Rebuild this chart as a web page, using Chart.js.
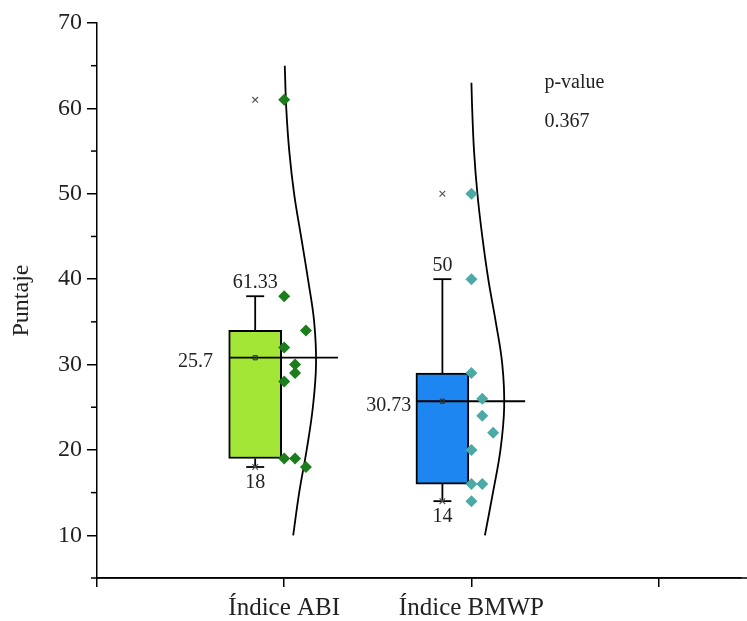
<!DOCTYPE html>
<html>
<head>
<meta charset="utf-8">
<script src="https://cdn.jsdelivr.net/npm/chart.js@4.4.0/dist/chart.umd.min.js"></script>
<style>
  html, body { margin: 0; padding: 0; background: #fff; }
  #wrap { width: 747px; height: 621px; }
</style>
</head>
<body>
<div id="wrap"><canvas id="boxChart" width="747" height="621"></canvas></div>
<script>
// Puntajes por índice
const categories = ['Índice ABI', 'Índice BMWP'];
const abiScores = [61, 38, 34, 32, 30, 29, 28, 19, 19, 18];
const bmwpScores = [50, 40, 29, 26, 24, 22, 20, 16, 16, 14];
// columna del punto junto a la caja (0, 1, 2)
const abiJitter = [0, 0, 2, 0, 1, 1, 0, 0, 1, 2];
const bmwpJitter = [0, 0, 0, 1, 1, 2, 0, 0, 1, 0];

// Caja y bigotes
const boxLow = [19, 16];
const boxHigh = [34, 29];
const whiskerLow = [18, 14];
const whiskerHigh = [38, 40];
const topLabels = ['61.33', '50'];
const meanLabels = ['25.7', '30.73'];
const pLabel = 'p-value';
const pValue = '0.367';

const yTicks = [10, 20, 30, 40, 50, 60, 70];
const yMinorTicks = [15, 25, 35, 45, 55, 65];

// Curva normal (nivel, ancho)
const abiCurveY = [10, 15, 20, 25, 30, 35, 40, 45, 50, 55, 60, 65];
const abiCurveW = [0.048, 0.08, 0.12, 0.153, 0.17, 0.16, 0.127, 0.09, 0.053, 0.027, 0.011, 0.003];
const bmwpCurveY = [10, 15, 20, 25, 30, 35, 40, 45, 50, 55, 60, 63];
const bmwpCurveW = [0.072, 0.115, 0.155, 0.175, 0.165, 0.13, 0.09, 0.058, 0.032, 0.014, 0.004, 0];

const scoreSets = [abiScores, bmwpScores];
const jitterSets = [abiJitter, bmwpJitter];
const curveSets = [[abiCurveY, abiCurveW], [bmwpCurveY, bmwpCurveW]];
const boxColors = ['#a3e636', '#1e86f0'];
const pointColors = ['#1b7d1b', '#4ba9a6'];

const BOX_SHIFT = 0.155;
const CAP = 0.048;
const JITTER_STEP = 0.058;

function mean(arr) {
    return arr.reduce((a, b) => a + b, 0) / arr.length;
}
const means = scoreSets.map(mean);
const maxVals = scoreSets.map(s => Math.max(...s));
const minVals = scoreSets.map(s => Math.min(...s));

function segment(x1, y1, x2, y2, order) {
    return {
        type: 'line',
        data: [{x: x1, y: y1}, {x: x2, y: y2}],
        borderColor: '#000',
        borderWidth: 1.8,
        pointRadius: 0,
        tension: 0,
        fill: false,
        order: order
    };
}

const datasets = [];

// cajas
datasets.push({
    type: 'bar',
    data: categories.map((c, i) => ({x: i + 1 - BOX_SHIFT, y: [boxLow[i], boxHigh[i]]})),
    backgroundColor: boxColors,
    borderColor: '#000',
    borderWidth: 2,
    borderSkipped: false,
    barThickness: 53,
    grouped: false,
    order: 20
});

categories.forEach((c, i) => {
    const cx = i + 1 - BOX_SHIFT;
    // bigotes
    datasets.push(segment(cx, boxHigh[i], cx, whiskerHigh[i], 15));
    datasets.push(segment(cx - CAP, whiskerHigh[i], cx + CAP, whiskerHigh[i], 15));
    datasets.push(segment(cx, boxLow[i], cx, whiskerLow[i], 15));
    datasets.push(segment(cx - CAP, whiskerLow[i], cx + CAP, whiskerLow[i], 15));
    // línea de la media
    datasets.push(segment(cx - 0.14, means[i], i + 1 + 0.287, means[i], 12));

    // curva normal
    const [cy, cw] = curveSets[i];
    datasets.push({
        type: 'line',
        data: cy.map((v, k) => ({x: i + 1 + cw[k], y: v})),
        borderColor: '#000',
        borderWidth: 1.8,
        pointRadius: 0,
        tension: 0.4,
        fill: false,
        order: 10
    });

    // media, máximo y mínimo
    datasets.push({
        type: 'scatter',
        data: [{x: cx, y: means[i]}],
        pointStyle: 'rect',
        pointRadius: 3,
        backgroundColor: 'rgba(60,60,60,0.35)',
        borderColor: '#333',
        borderWidth: 1,
        order: 5
    });
    datasets.push({
        type: 'scatter',
        data: [{x: cx, y: maxVals[i]}, {x: cx, y: minVals[i]}],
        pointStyle: 'crossRot',
        pointRadius: 4,
        borderColor: '#555',
        borderWidth: 1.2,
        order: 5
    });

    // puntos individuales
    datasets.push({
        type: 'scatter',
        data: scoreSets[i].map((v, k) => ({x: i + 1 + jitterSets[i][k] * JITTER_STEP, y: v})),
        pointStyle: 'rectRot',
        pointRadius: 6,
        backgroundColor: pointColors[i],
        borderColor: pointColors[i],
        borderWidth: 0,
        order: 1
    });
});

// marcas menores y textos
const extrasPlugin = {
    id: 'extras',
    afterDraw(chart) {
        const {ctx, scales: {x, y}} = chart;
        const axisX = x.getPixelForValue(0);
        ctx.save();
        ctx.strokeStyle = '#000';
        ctx.lineWidth = 1.5;
        yMinorTicks.forEach(v => {
            const py = y.getPixelForValue(v);
            ctx.beginPath();
            ctx.moveTo(axisX - 6, py);
            ctx.lineTo(axisX, py);
            ctx.stroke();
        });
        // cruce de ejes
        const axisY = y.getPixelForValue(5);
        ctx.beginPath();
        ctx.moveTo(axisX - 6, axisY);
        ctx.lineTo(chart.width, axisY);
        ctx.stroke();

        ctx.fillStyle = '#222';
        ctx.font = "20px 'Liberation Serif'";
        ctx.textBaseline = 'middle';
        const meanGap = [16, 5];
        categories.forEach((c, i) => {
            const cx = x.getPixelForValue(i + 1 - BOX_SHIFT);
            ctx.textAlign = 'center';
            ctx.fillText(topLabels[i], cx, y.getPixelForValue(whiskerHigh[i]) - 13);
            ctx.fillText(String(whiskerLow[i]), cx, y.getPixelForValue(whiskerLow[i]) + 16);
            ctx.textAlign = 'right';
            const left = x.getPixelForValue(i + 1 - BOX_SHIFT - 0.14);
            ctx.fillText(meanLabels[i], left - meanGap[i], y.getPixelForValue(means[i]) + 4);
        });

        ctx.textAlign = 'left';
        ctx.fillText(pLabel, x.getPixelForValue(2.39), y.getPixelForValue(63.0));
        ctx.fillText(pValue, x.getPixelForValue(2.39), y.getPixelForValue(58.4));
        ctx.restore();
    }
};

Chart.defaults.font.family = "'Liberation Serif', 'Times New Roman', serif";
Chart.defaults.color = '#222';

const ctx = document.getElementById('boxChart');
new Chart(ctx, {
    type: 'bar',
    data: { datasets: datasets },
    options: {
        responsive: false,
        animation: false,
        layout: { padding: { top: 23, right: 0, left: 0, bottom: 0 } },
        plugins: {
            legend: { display: false },
            tooltip: { enabled: false }
        },
        scales: {
            x: {
                type: 'linear',
                min: 0,
                max: 3.44,
                offset: false,
                afterBuildTicks: (scale) => {
                    scale.ticks = [0, 1, 2, 3].map(v => ({value: v}));
                },
                afterFit: (scale) => { scale.height = 43; },
                ticks: {
                    autoSkip: false,
                    maxRotation: 0,
                    padding: 6,
                    font: { size: 25 },
                    color: '#222',
                    callback: (v) => categories[v - 1] || ''
                },
                grid: {
                    offset: false,
                    drawOnChartArea: false,
                    drawTicks: true,
                    tickLength: 9,
                    color: '#000',
                    lineWidth: 1.5
                },
                border: { display: true, color: '#000', width: 1.5 }
            },
            y: {
                type: 'linear',
                min: 5,
                max: 70,
                afterBuildTicks: (scale) => {
                    scale.ticks = yTicks.map(v => ({value: v}));
                },
                afterFit: (scale) => { scale.width = 97; },
                ticks: {
                    padding: 5,
                    font: { size: 24 },
                    color: '#222'
                },
                grid: {
                    drawOnChartArea: false,
                    drawTicks: true,
                    tickLength: 10,
                    color: '#000',
                    lineWidth: 1.5
                },
                border: { display: true, color: '#000', width: 1.5 },
                title: {
                    display: true,
                    text: 'Puntaje',
                    font: { size: 24 },
                    color: '#222',
                    padding: { top: 7, bottom: 0 }
                }
            }
        }
    },
    plugins: [extrasPlugin]
});
</script>
</body>
</html>
